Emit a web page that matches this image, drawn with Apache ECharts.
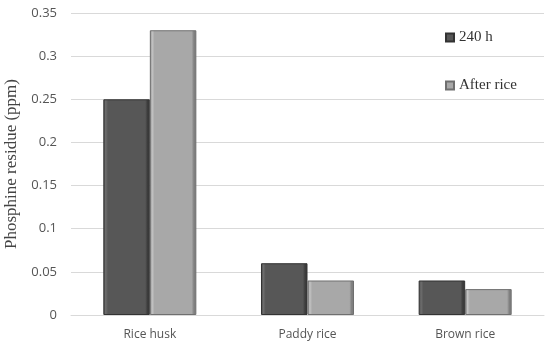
<!DOCTYPE html>
<html>
<head>
<meta charset="utf-8">
<script src="https://cdn.jsdelivr.net/npm/echarts@6/dist/echarts.min.js"></script>
<style>html,body{margin:0;padding:0;background:#fff}#c{width:550px;height:345px}</style>
</head>
<body>
<div id="c"></div>
<script>
const categories = ['Rice husk', 'Paddy rice', 'Brown rice'];
const seriesNames = ['240 h', 'After rice'];
const values240h = [0.25, 0.06, 0.04];
const valuesAfterRice = [0.33, 0.04, 0.03];

// Soft bevel look: darker rims on both sides of each bar
function bevel(base, light, dark) {
  return {
    type: 'linear', x: 0, y: 0, x2: 1, y2: 0,
    colorStops: [
      { offset: 0, color: dark },
      { offset: 0.05, color: light },
      { offset: 0.1, color: base },
      { offset: 0.9, color: base },
      { offset: 0.95, color: dark },
      { offset: 1, color: dark }
    ]
  };
}

const chart = echarts.init(document.getElementById('c'));
chart.setOption({
  animation: false,
  grid: { left: 71, right: 6, top: 13, bottom: 30, outerBoundsMode: 'none' },
  legend: {
    orient: 'vertical',
    left: 440, top: 25,
    itemWidth: 8, itemHeight: 8, itemGap: 33,
    icon: 'rect',
    textStyle: { fontFamily: 'Liberation Serif', fontSize: 15, color: '#333' },
    data: seriesNames
  },
  xAxis: {
    type: 'category',
    data: categories,
    axisLine: { lineStyle: { color: '#d9d9d9' } },
    axisTick: { show: false },
    axisLabel: { fontFamily: 'Open Sans', fontSize: 12, color: '#555', margin: 14 }
  },
  yAxis: {
    type: 'value',
    min: 0, max: 0.35, interval: 0.05,
    name: 'Phosphine residue (ppm)',
    nameLocation: 'middle', nameGap: 40,
    nameTextStyle: { fontFamily: 'Liberation Serif', fontSize: 17, color: '#444' },
    axisLine: { show: false },
    axisTick: { show: false },
    axisLabel: {
      fontFamily: 'Open Sans', fontSize: 13, color: '#555', margin: 14,
      formatter: v => String(parseFloat(v.toFixed(2)))
    },
    splitLine: { lineStyle: { color: '#d9d9d9', width: 1 } }
  },
  series: [
    {
      name: seriesNames[0], type: 'bar', data: values240h,
      barGap: '0%', barCategoryGap: '41%',
      itemStyle: { color: bevel('#575757', '#6e6e6e', '#3c3c3c'), borderColor: '#333', borderWidth: 1 }
    },
    {
      name: seriesNames[1], type: 'bar', data: valuesAfterRice,
      itemStyle: { color: bevel('#a8a8a8', '#c4c4c4', '#7f7f7f'), borderColor: '#6f6f6f', borderWidth: 1 }
    }
  ]
});
</script>
</body>
</html>
